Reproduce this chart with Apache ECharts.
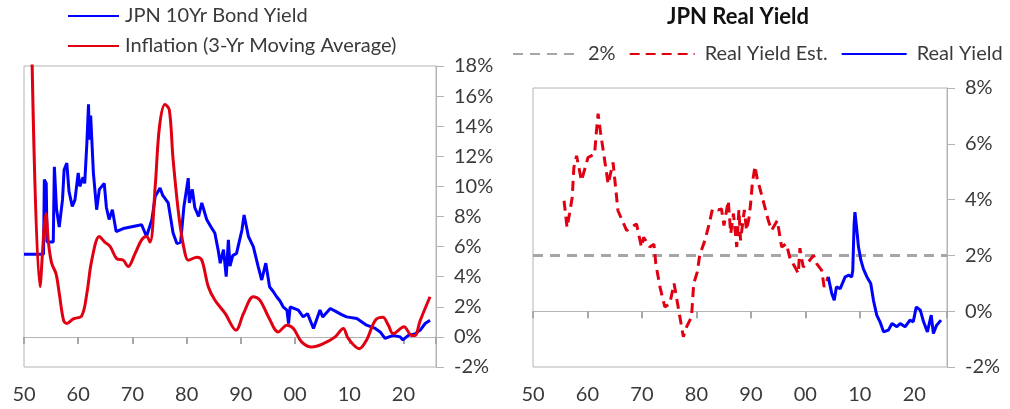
<!DOCTYPE html>
<html>
<head>
<meta charset="utf-8">
<style>
  html, body { margin: 0; padding: 0; background: #fff; }
  #chart { width: 1010px; height: 409px; }
</style>
<script src="https://cdn.jsdelivr.net/npm/echarts@6/dist/echarts.min.js"></script>
</head>
<body>
<div id="chart"></div>
<script>
// JPN 10-year government bond yield (%)
const bondYears = [1950.0, 1953.6, 1953.75, 1954.1, 1954.25, 1955.4, 1955.6, 1956.0, 1956.5, 1957.1, 1957.4, 1957.9,
  1958.3, 1958.9, 1959.4, 1960.0, 1960.3, 1960.9, 1961.2, 1961.6, 1961.9, 1962.05, 1962.3, 1962.8, 1963.4, 1963.9,
  1964.8, 1965.2, 1965.7, 1966.3, 1967.0, 1968.3, 1971.7, 1972.6, 1973.6, 1974.2, 1975.1, 1975.6, 1976.6, 1977.5,
  1978.2, 1978.9, 1979.5, 1980.3, 1980.5, 1981.05, 1981.5, 1982.2, 1982.8, 1983.7, 1984.5, 1985.2, 1985.8, 1986.2,
  1986.8, 1987.3, 1987.7, 1988.0, 1988.5, 1989.2, 1990.2, 1990.6, 1991.4, 1992.3, 1993.2, 1993.85, 1994.6, 1995.3,
  1996.0, 1996.6, 1997.2, 1997.8, 1998.5, 1998.8, 1999.1, 2000.6, 2001.5, 2002.3, 2003.4, 2004.6, 2005.1, 2006.5,
  2007.5, 2008.5, 2009.5, 2011.4, 2013.2, 2014.8, 2015.7, 2016.6, 2018.1, 2019.4, 2019.9, 2020.9, 2022.1, 2023.1,
  2024.0, 2024.9];
const bondYield = [5.5, 5.5, 10.45, 10.2, 6.3, 6.3, 11.3, 8.5, 7.3, 9.1, 11.1, 11.55,
  9.67, 8.67, 9.1, 10.9, 10.0, 10.6, 10.2, 12.9, 15.45, 13.1, 14.7, 10.9, 8.45, 9.8,
  10.2, 8.6, 7.8, 8.45, 7.0, 7.2, 7.45, 6.67, 7.8, 9.33, 9.9, 9.4, 8.9, 6.9,
  6.2, 6.3, 8.67, 10.55, 8.9, 9.8, 8.6, 8.0, 8.9, 7.8, 7.3, 6.9, 5.8, 4.9,
  5.8, 4.0, 6.45, 4.7, 5.4, 5.55, 7.1, 8.1, 6.67, 6.0, 4.67, 3.78, 4.9, 3.33,
  3.0, 2.67, 2.4, 2.0, 1.78, 0.89, 2.0, 1.78, 1.33, 1.55, 0.56, 1.78, 1.33, 1.89,
  1.7, 1.5, 1.33, 1.22, 0.78, 0.56, 0.33, -0.1, 0.1, 0.0, -0.2, 0.1, 0.2, 0.45,
  0.89, 1.1];

// Inflation, 3-year moving average (%)
const inflYears = [1951.3, 1952.95, 1954.06, 1954.5, 1955.1, 1955.9, 1956.5, 1957.3, 1957.9, 1959.1, 1960.65, 1961.6,
  1962.5, 1963.9, 1964.9, 1965.9, 1967.1, 1968.3, 1969.2, 1970.5, 1971.7, 1972.6, 1973.25, 1974.2, 1975.0, 1976.0,
  1976.8, 1977.5, 1978.65, 1979.7, 1980.3, 1981.9, 1982.8, 1984.0, 1985.2, 1987.1, 1989.1, 1990.5, 1992.3, 1993.5,
  1995.1, 1996.9, 1998.5, 1999.7, 2001.2, 2003.1, 2005.2, 2007.4, 2008.9, 2009.8, 2011.85, 2013.2, 2014.8, 2016.2,
  2017.2, 2018.1, 2020.1, 2021.5, 2022.1, 2023.1, 2024.9];
const inflation = [22, 3.33, 8.2, 6.3, 4.9, 4.2, 2.9, 1.1, 0.89, 1.2, 1.4, 2.9,
  5.1, 6.67, 6.3, 6.0, 5.2, 5.1, 4.67, 5.55, 6.45, 6.67, 6.3, 10.0, 14.0, 15.45,
  15.1, 11.8, 7.8, 5.55, 5.1, 5.3, 5.1, 3.33, 2.45, 1.56, 0.45, 1.56, 2.67, 2.45,
  1.33, 0.33, 0.78, 0.56, -0.33, -0.67, -0.45, 0.0, 0.56, -0.1, -0.78, -0.2, 1.1, 1.3,
  0.78, 0.22, 0.67, 0.1, 0.1, 1.1, 2.67];

// Real yield estimate (%), 1955-2004
const estYears = [1955.7, 1956.25, 1956.7, 1957.2, 1957.5, 1958.0, 1958.9, 1960.1, 1961.3, 1961.65, 1961.95, 1962.4,
  1962.9, 1963.8, 1964.7, 1965.6, 1967.2, 1969.0, 1969.9, 1970.3, 1971.45, 1972.2, 1972.55, 1973.3, 1974.2, 1975.1,
  1975.9, 1976.65, 1977.6, 1978.2, 1979.1, 1979.5, 1980.15, 1980.6, 1981.55, 1982.35, 1982.95, 1984.0, 1984.6, 1985.05,
  1985.85, 1986.3, 1986.8, 1987.4, 1987.8, 1988.1, 1988.8, 1989.2, 1989.7, 1989.95, 1990.25, 1990.75, 1991.2, 1991.6,
  1992.4, 1993.2, 1993.8, 1994.85, 1995.65, 1996.5, 1997.2, 1998.1, 1998.7, 1999.0, 1999.6, 2000.55, 2001.5, 2002.1,
  2003.0, 2003.45, 2004.2];
const estYield = [3.96, 3.0, 3.49, 4.08, 5.15, 5.57, 4.68, 5.51, 5.63, 6.46, 7.08, 6.4,
  5.75, 4.56, 5.33, 3.6, 2.89, 3.13, 2.3, 2.65, 2.3, 2.4, 1.7, 0.87, 0.15, 0.27,
  0.99, 0.15, -0.92, -0.56, -0.2, 0.99, 1.4, 2.0, 2.54, 3.13, 3.67, 3.63, 3.67, 3.07,
  3.96, 2.78, 3.5, 2.3, 3.63, 2.54, 3.63, 2.9, 3.4, 3.85, 4.56, 5.2, 4.7, 4.44,
  3.85, 3.25, 2.9, 3.25, 2.3, 2.42, 1.88, 1.58, 1.35, 2.26, 1.58, 1.76, 2.0, 1.7,
  1.46, 0.87, 1.23];

// Real yield (%), 2004 onward
const realYears = [2004.2, 2004.85, 2005.3, 2005.7, 2006.4, 2007.3, 2008.0, 2008.5, 2008.7, 2008.95, 2009.1, 2009.4,
  2009.75, 2010.2, 2010.65, 2011.3, 2012.0, 2012.5, 2013.1, 2013.7, 2014.35, 2015.25, 2015.9, 2016.8, 2017.4, 2018.3,
  2019.2, 2019.8, 2020.35, 2021.1, 2021.7, 2022.4, 2023.1, 2023.5, 2024.1, 2024.9];
const realYield = [1.23, 0.63, 0.39, 0.87, 0.81, 1.23, 1.29, 1.23, 1.46, 3.13, 3.55, 3.0,
  2.3, 1.82, 1.52, 1.23, 0.99, 0.39, -0.14, -0.38, -0.74, -0.68, -0.44, -0.56, -0.44, -0.56,
  -0.32, -0.38, 0.15, 0.04, -0.38, -0.74, -0.14, -0.8, -0.5, -0.32];

// 2% reference level
const refYears = [1950, 2026];
const refLevel = [2, 2];

// Axis ranges and tick steps
const xMin = 1950, xMax = 2026, xStep = 10;
const leftYMin = -2, leftYMax = 18, leftYStep = 2;
const rightYMin = -2, rightYMax = 8, rightYStep = 2;

const zip = (xs, ys) => xs.map((x, i) => [x, ys[i]]);

const FONT = 'Lato, "Noto Sans", sans-serif';
const TEXT = '#3a3a3a';
const FRAME = '#b4b4b4';
const BLUE = '#0000ff';
const RED = '#e00012';

// Plot boxes
const leftBox = { left: 24, top: 66, width: 412, height: 301 };
const rightBox = { left: 533, top: 88, width: 414, height: 279 };

function yearLabel(v) {
  const s = String(Math.round(v) % 100);
  return s.length < 2 ? '0' + s : s;
}

// Year labels along the bottom edge of a plot
function labelAxis(gridIndex) {
  return {
    type: 'value', gridIndex, position: 'bottom', min: xMin, max: xMax, interval: xStep,
    axisLine: { show: false, onZero: false },
    axisTick: { show: false },
    axisLabel: { margin: 18, fontFamily: FONT, fontSize: 20, color: TEXT, formatter: yearLabel, showMaxLabel: false },
    splitLine: { show: false }
  };
}

// Zero line with downward ticks; shifted from the top edge down to y = 0
function zeroAxis(gridIndex, box, yMin, yMax) {
  return {
    type: 'value', gridIndex, position: 'top', min: xMin, max: xMax, interval: xStep,
    offset: -box.height * (yMax - 0) / (yMax - yMin),
    axisLine: { show: true, onZero: false, lineStyle: { color: FRAME, width: 1 } },
    axisTick: { show: true, inside: true, length: 7, lineStyle: { color: '#a8a8a8', width: 2 } },
    axisLabel: { show: false },
    splitLine: { show: false }
  };
}

function yAxisFor(gridIndex, min, max, interval) {
  return {
    type: 'value', gridIndex, position: 'right', min, max, interval,
    axisLine: { show: true, lineStyle: { color: FRAME, width: 1 } },
    axisTick: { show: true, length: 8, lineStyle: { color: FRAME } },
    axisLabel: { margin: 18, fontFamily: FONT, fontSize: 20, color: TEXT, formatter: v => v + '%' },
    splitLine: { show: false }
  };
}

const chart = echarts.init(document.getElementById('chart'), null, { renderer: 'canvas' });

chart.setOption({
  animation: false,
  backgroundColor: '#ffffff',
  title: {
    text: 'JPN Real Yield',
    left: 667, top: 6, padding: 0,
    textStyle: { fontFamily: FONT, fontSize: 22, fontWeight: 'bold', color: '#111' }
  },
  legend: [
    {
      orient: 'vertical', left: 67, top: 5, padding: 0,
      itemWidth: 51, itemHeight: 12, itemGap: 8,
      itemStyle: { opacity: 0 },
      data: ['JPN 10Yr Bond Yield', 'Inflation (3-Yr Moving Average)'],
      textStyle: { fontFamily: FONT, fontSize: 20, color: TEXT, lineHeight: 22, padding: [0, 0, 0, 1] }
    },
    {
      orient: 'horizontal', left: 512, top: 44, padding: 0,
      itemWidth: 65, itemHeight: 12, itemGap: 13,
      itemStyle: { opacity: 0 },
      data: ['2%', 'Real Yield Est.', 'Real Yield'],
      textStyle: { fontFamily: FONT, fontSize: 20, color: TEXT, padding: [0, 0, 0, 5] }
    }
  ],
  grid: [
    Object.assign({ show: true, borderColor: FRAME, borderWidth: 1, backgroundColor: 'transparent',
      outerBoundsMode: 'none', containLabel: false }, leftBox),
    Object.assign({ show: true, borderColor: FRAME, borderWidth: 1, backgroundColor: 'transparent',
      outerBoundsMode: 'none', containLabel: false }, rightBox)
  ],
  xAxis: [
    labelAxis(0),
    labelAxis(1),
    zeroAxis(0, leftBox, leftYMin, leftYMax),
    zeroAxis(1, rightBox, rightYMin, rightYMax)
  ],
  yAxis: [
    yAxisFor(0, leftYMin, leftYMax, leftYStep),
    yAxisFor(1, rightYMin, rightYMax, rightYStep)
  ],
  series: [
    {
      name: 'JPN 10Yr Bond Yield', type: 'line', xAxisIndex: 0, yAxisIndex: 0,
      data: zip(bondYears, bondYield), symbol: 'none', clip: true,
      lineStyle: { color: BLUE, width: 3 }, itemStyle: { color: BLUE }, z: 3
    },
    {
      name: 'Inflation (3-Yr Moving Average)', type: 'line', xAxisIndex: 0, yAxisIndex: 0,
      data: zip(inflYears, inflation), symbol: 'none', smooth: 0.35, clip: true,
      lineStyle: { color: RED, width: 3 }, itemStyle: { color: RED }, z: 4
    },
    {
      name: '2%', type: 'line', xAxisIndex: 1, yAxisIndex: 1,
      data: zip(refYears, refLevel), symbol: 'none',
      lineStyle: { color: '#a6a6a6', width: 3, type: [10, 7] }, itemStyle: { color: '#a6a6a6' }, z: 2
    },
    {
      name: 'Real Yield Est.', type: 'line', xAxisIndex: 1, yAxisIndex: 1,
      data: zip(estYears, estYield), symbol: 'none',
      lineStyle: { color: RED, width: 3, type: [10, 6] }, itemStyle: { color: RED }, z: 3
    },
    {
      name: 'Real Yield', type: 'line', xAxisIndex: 1, yAxisIndex: 1,
      data: zip(realYears, realYield), symbol: 'none',
      lineStyle: { color: BLUE, width: 3 }, itemStyle: { color: BLUE }, z: 3
    }
  ]
});
</script>
</body>
</html>
